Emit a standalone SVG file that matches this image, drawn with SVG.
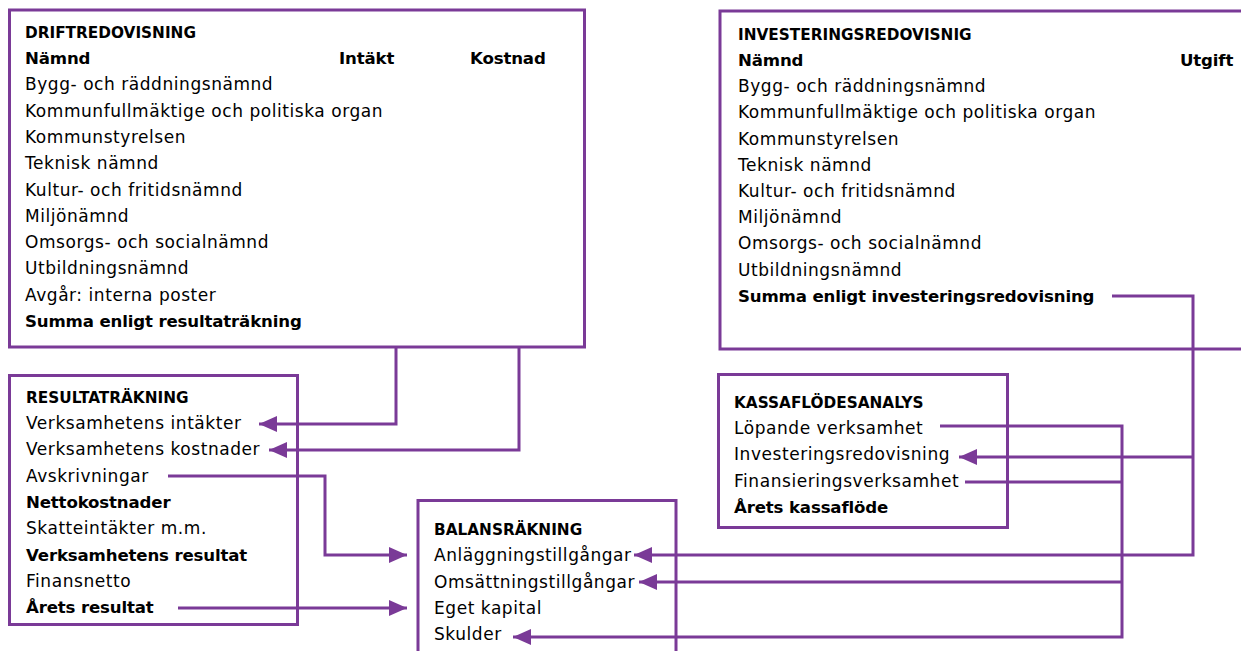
<svg xmlns="http://www.w3.org/2000/svg" width="1241" height="651" viewBox="0 0 1241 651">
<style>
.box{fill:#fff;stroke:#7a3a97;stroke-width:3}
.ln{fill:none;stroke:#7a3a97;stroke-width:3}
text{font-family:"DejaVu Sans","Open Sans",sans-serif;font-size:17px;letter-spacing:0.55px;fill:#000}
.b{font-weight:bold;font-size:16.6px;letter-spacing:-0.15px}
.h{font-weight:bold;font-size:15.3px;letter-spacing:0}
</style>
<defs>
<marker id="ah" markerUnits="userSpaceOnUse" markerWidth="20" markerHeight="16" refX="18" refY="8" orient="auto">
<path d="M0,0 L18,8 L0,16 Z" fill="#7a3a97"/>
</marker>
</defs>
<rect width="1241" height="651" fill="#fff"/>
<g id="drift">
<rect class="box" x="9.5" y="10" width="575" height="337"/>
<text class="h" x="25" y="38">DRIFTREDOVISNING</text>
<text class="b" x="25" y="64">Nämnd</text>
<text class="b" x="339" y="64">Intäkt</text>
<text class="b" x="470" y="64">Kostnad</text>
<text x="25" y="90.3">Bygg- och räddningsnämnd</text>
<text x="25" y="116.6">Kommunfullmäktige och politiska organ</text>
<text x="25" y="142.9">Kommunstyrelsen</text>
<text x="25" y="169.2">Teknisk nämnd</text>
<text x="25" y="195.5">Kultur- och fritidsnämnd</text>
<text x="25" y="221.8">Miljönämnd</text>
<text x="25" y="248.1">Omsorgs- och socialnämnd</text>
<text x="25" y="274.4">Utbildningsnämnd</text>
<text x="25" y="300.7">Avgår: interna poster</text>
<text class="b" x="25" y="327">Summa enligt resultaträkning</text>
</g>
<g id="invest">
<rect class="box" x="720" y="11" width="530" height="338"/>
<text class="h" x="738" y="40">INVESTERINGSREDOVISNIG</text>
<text class="b" x="738" y="66">Nämnd</text>
<text class="b" x="1180" y="66">Utgift</text>
<text x="738" y="92.2">Bygg- och räddningsnämnd</text>
<text x="738" y="118.4">Kommunfullmäktige och politiska organ</text>
<text x="738" y="144.6">Kommunstyrelsen</text>
<text x="738" y="170.8">Teknisk nämnd</text>
<text x="738" y="197">Kultur- och fritidsnämnd</text>
<text x="738" y="223.2">Miljönämnd</text>
<text x="738" y="249.4">Omsorgs- och socialnämnd</text>
<text x="738" y="275.6">Utbildningsnämnd</text>
<text class="b" x="738" y="301.8">Summa enligt investeringsredovisning</text>
</g>
<g id="resultat">
<rect class="box" x="9.5" y="375.5" width="288" height="249"/>
<text class="h" x="26" y="403">RESULTATRÄKNING</text>
<text x="26" y="429">Verksamhetens intäkter</text>
<text x="26" y="455.3">Verksamhetens kostnader</text>
<text x="26" y="481.6">Avskrivningar</text>
<text class="b" x="26" y="507.9">Nettokostnader</text>
<text x="26" y="534.2">Skatteintäkter m.m.</text>
<text class="b" x="26" y="560.5">Verksamhetens resultat</text>
<text x="26" y="586.8">Finansnetto</text>
<text class="b" x="26" y="613.1">Årets resultat</text>
</g>
<g id="balans">
<rect class="box" x="418" y="500.5" width="258" height="170"/>
<text class="h" x="434" y="535">BALANSRÄKNING</text>
<text x="434" y="561.3">Anläggningstillgångar</text>
<text x="434" y="587.6">Omsättningstillgångar</text>
<text x="434" y="613.9">Eget kapital</text>
<text x="434" y="640.2">Skulder</text>
</g>
<g id="kassa">
<rect class="box" x="718.5" y="374.5" width="289" height="153"/>
<text class="h" x="734" y="408.3">KASSAFLÖDESANALYS</text>
<text x="734" y="434">Löpande verksamhet</text>
<text x="734" y="460.3">Investeringsredovisning</text>
<text x="734" y="486.6">Finansieringsverksamhet</text>
<text class="b" x="734" y="512.9">Årets kassaflöde</text>
</g>
<g id="connectors">
<path class="ln" d="M396 347 V424 H259" marker-end="url(#ah)"/>
<path class="ln" d="M519 347 V450 H269" marker-end="url(#ah)"/>
<path class="ln" d="M168 476 H325 V555 H407" marker-end="url(#ah)"/>
<path class="ln" d="M178 608 H407" marker-end="url(#ah)"/>
<path class="ln" d="M1112 296 H1193 V555 H634" marker-end="url(#ah)"/>
<path class="ln" d="M1193 457 H959" marker-end="url(#ah)"/>
<path class="ln" d="M940 426 H1122 V637 H513" marker-end="url(#ah)"/>
<path class="ln" d="M1122 582 H639" marker-end="url(#ah)"/>
<path class="ln" d="M965 482 H1122"/>
</g>
</svg>
